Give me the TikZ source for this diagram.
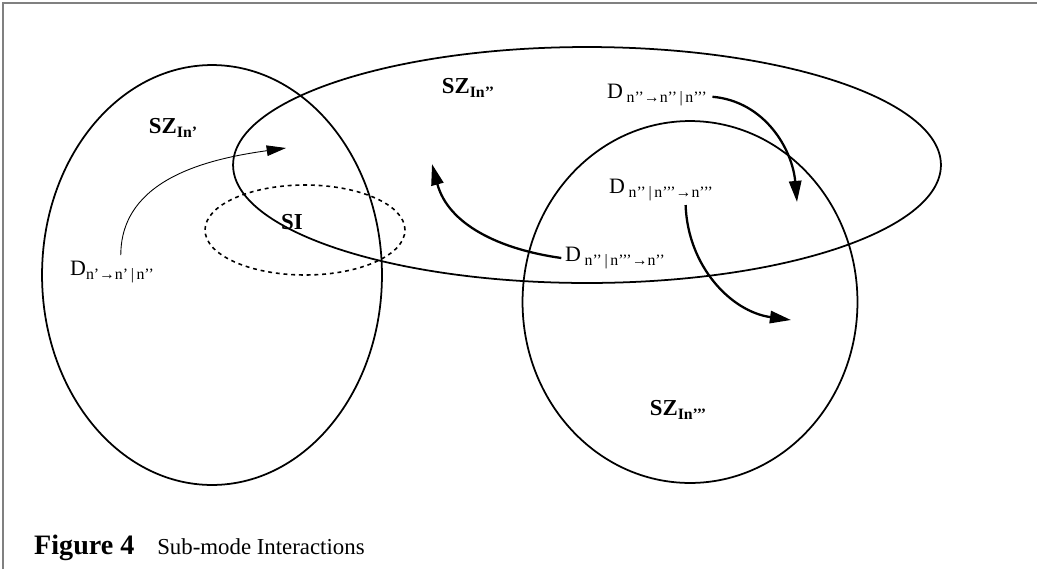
\documentclass[tikz,border=0pt]{standalone}
\usepackage{fontspec}
\setmainfont{Liberation Serif}
\usetikzlibrary{shapes.geometric, arrows.meta, positioning}
\newcommand{\dsub}[1]{D\,\raisebox{-0.45ex}{\small #1}}
\newcommand{\szsub}[1]{SZ\raisebox{-0.45ex}{\small #1}}
\tikzset{
    zone/.style={ellipse, draw, line width=1pt, inner sep=0pt},
    overlap zone/.style={ellipse, draw, line width=0.9pt, dash pattern=on 2.2pt off 2.2pt, inner sep=0pt},
    zone label/.style={font=\fontsize{13}{15}\selectfont\bfseries, inner sep=0pt},
    delta/.style={font=\fontsize{12.5}{14}\selectfont, inner sep=0pt},
    flow/.style={-{Triangle[length=12pt,width=7pt]}, line width=1.3pt},
    thin flow/.style={-{Triangle[length=11pt,width=6pt]}, line width=0.5pt}
}

\begin{document}
\begin{tikzpicture}[x=0.02cm, y=-0.02cm]
    \useasboundingbox (0,0) rectangle (1037,569);
    % frame
    \draw[gray, line width=1pt] (3,569) -- (3,3) -- (1037,3);

    % zones
    \node[zone, minimum width=6.8cm, minimum height=8.4cm] (zleft) at (212,275) {};
    \node[zone, minimum width=14.16cm, minimum height=4.72cm] (zmid) at (587,165) {};
    \node[zone, minimum width=6.7cm, minimum height=7.24cm] (zright) at (690,302) {};
    \node[overlap zone, minimum width=4cm, minimum height=1.8cm] (si) at (305,230) {};

    % labels
    \node[zone label] (szone) at (173,128) {\szsub{In’}};
    \node[zone label] (sztwo) at (468,88) {\szsub{In’’}};
    \node[zone label] (szthree) at (678,410) {\szsub{In’’’}};
    \node[zone label] (silabel) at (292,222) {SI};

    \node[delta] (dleft) at (112,272) {D\raisebox{-0.45ex}{\small n’→n’\,|\,n’’}};
    \node[delta] (dtop) at (657,95) {\dsub{n’’→n’’\,|\,n’’’}};
    \node[delta] (dmid) at (661,190) {\dsub{n’’\,|\,n’’’→n’’’}};
    \node[delta] (dlow) at (615,258) {\dsub{n’’\,|\,n’’’→n’’}};

    % arrow ends
    \coordinate (eleft) at (286,148);
    \coordinate (elow) at (432,164);
    \coordinate (etop) at (797,202);
    \coordinate (emid) at (791,320);

    \draw[thin flow] ([xshift=5pt,yshift=3pt]dleft.north) to[out=90, in=188] (eleft);
    \draw[flow] ([xshift=-2pt]dlow.west) to[out=172, in=-75] (elow);
    \draw[flow] ([xshift=3pt,yshift=-1pt]dtop.east) to[out=-5, in=95] (etop);
    \draw[flow] ([xshift=14pt,yshift=-2pt]dmid.south) to[out=-88, in=172] (emid);

    \node[anchor=west, font=\fontsize{13}{16}\selectfont] (caption) at (28,548)
        {\textbf{\fontsize{16}{18}\selectfont Figure 4}\quad Sub-mode Interactions};
\end{tikzpicture}
\end{document}
